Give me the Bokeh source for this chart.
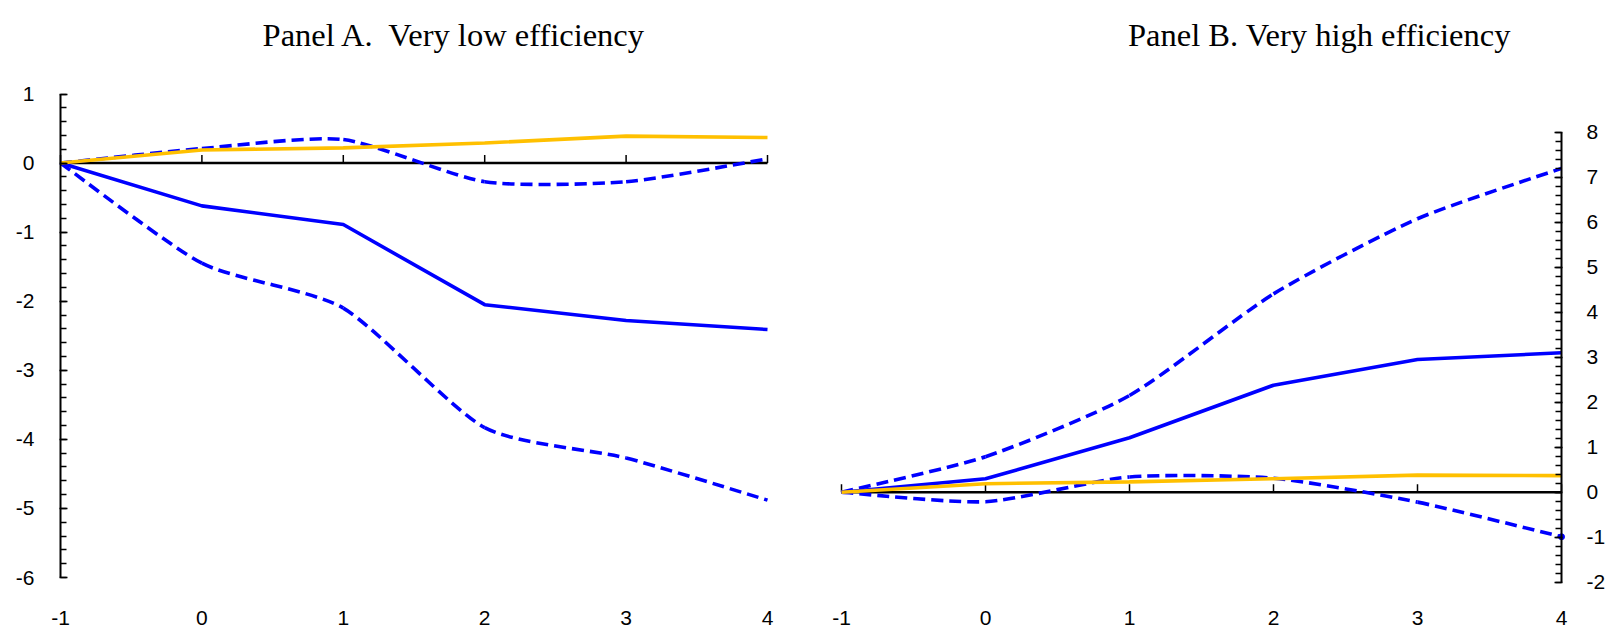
import numpy as np
from bokeh.plotting import figure
from bokeh.models import LinearAxis, FixedTicker, Label, Range1d
from bokeh.core.properties import value
from bokeh.embed import file_html
from bokeh.resources import INLINE

# ---------------- data ----------------
periods = [-1, 0, 1, 2, 3, 4]
period_labels = ["-1", "0", "1", "2", "3", "4"]

a_point = [0, -0.62, -0.89, -2.05, -2.28, -2.41]
a_upper = [0, 0.21, 0.34, -0.27, -0.27, 0.06]
a_lower = [0, -1.45, -2.10, -3.83, -4.27, -4.88]
a_control = [0, 0.19, 0.22, 0.29, 0.39, 0.37]

b_point = [0, 0.30, 1.21, 2.38, 2.95, 3.10]
b_upper = [0, 0.79, 2.15, 4.41, 6.08, 7.20]
b_lower = [0, -0.21, 0.34, 0.31, -0.22, -0.99]
b_control = [0, 0.19, 0.23, 0.30, 0.38, 0.37]

a_yticks = [-6, -5, -4, -3, -2, -1, 0, 1]
b_yticks = [-2, -1, 0, 1, 2, 3, 4, 5, 6, 7, 8]

titles = ["Panel A.\u00a0 Very low efficiency", "Panel B. Very high efficiency"]

BLUE = "#0000FF"
GOLD = "#FFC000"
LABEL_FONT = "Liberation Sans"
LABEL_SIZE = "21px"
TITLE_FONT = "Liberation Serif"

# ---------------- layout (picture pixels) ----------------
FIG_W, FIG_H = 1614, 626
FRAME_L, FRAME_R = 0, FIG_W
FRAME_T, FRAME_B = 0, FIG_H
# panel A: x -1..4 -> 60..767, y 1..-6 -> 93.5..577
A_X = (60.0, 767.0)
A_Y = (93.5, 577.0)
# panel B: x -1..4 -> 841..1561, y 8..-2 -> 131.9..581.7
B_X = (841.0, 1561.0)
B_Y = (131.9, 581.7)
TITLE_CX = (454.0, 1319.0)
TITLE_BASE = 34.0
XLABEL_BASE = 617.5


def xrange_for(px):
    per = (px[1] - px[0]) / (periods[-1] - periods[0])
    return Range1d(periods[0] - (px[0] - FRAME_L) / per,
                   periods[-1] + (FRAME_R - px[1]) / per), per


def yrange_for(py, lo, hi):
    per = (py[1] - py[0]) / (hi - lo)
    return Range1d(lo - (FRAME_B - py[1]) / per, hi + (py[0] - FRAME_T) / per), per


xa, pxa = xrange_for(A_X)
xb, pxb = xrange_for(B_X)
ya, pya = yrange_for(A_Y, a_yticks[0], a_yticks[-1])
yb, pyb = yrange_for(B_Y, b_yticks[0], b_yticks[-1])

p = figure(frame_width=FRAME_R - FRAME_L, frame_height=FRAME_B - FRAME_T,
           x_range=xa, y_range=ya,
           output_backend="svg", toolbar_location=None,
           x_axis_location=None, y_axis_location=None,
           min_border_left=0, min_border_right=0,
           min_border_top=0, min_border_bottom=0)
p.extra_x_ranges = {"b": xb}
p.extra_y_ranges = {"b": yb}
p.grid.visible = False
p.outline_line_color = None
p.background_fill_color = "white"
p.border_fill_color = "white"


def style_yaxis(ax, standoff):
    ax.axis_line_width = 2
    ax.axis_line_color = "black"
    ax.major_tick_in = 7
    ax.major_tick_out = 1
    ax.minor_tick_in = 6
    ax.minor_tick_out = 0
    ax.major_tick_line_width = 1.5
    ax.minor_tick_line_width = 1.5
    ax.major_label_standoff = standoff
    ax.major_label_text_font = LABEL_FONT
    ax.major_label_text_font_size = LABEL_SIZE
    ax.major_label_text_color = "black"


def minor_for(ticks):
    return [float(v) for v in np.round(np.arange(ticks[0], ticks[-1] + 1e-9, 0.2), 2)]


yaxA = LinearAxis(ticker=FixedTicker(ticks=a_yticks, minor_ticks=minor_for(a_yticks)),
                  bounds=(a_yticks[0], a_yticks[-1]), fixed_location=periods[0],
                  major_label_overrides={t: str(t) for t in a_yticks})
style_yaxis(yaxA, 25)
p.add_layout(yaxA, "left")

yaxB = LinearAxis(ticker=FixedTicker(ticks=b_yticks, minor_ticks=minor_for(b_yticks)),
                  bounds=(b_yticks[0], b_yticks[-1]), fixed_location=periods[-1],
                  x_range_name="b", y_range_name="b",
                  major_label_overrides={t: str(t) for t in b_yticks})
style_yaxis(yaxB, 24)
p.add_layout(yaxB, "right")


def smooth(xs, ys, k=1.0 / 9.0):
    n = len(xs)
    d = dict(x0=[], y0=[], x1=[], y1=[], cx0=[], cy0=[], cx1=[], cy1=[])
    for i in range(n - 1):
        ip = max(i - 1, 0)
        inx = min(i + 2, n - 1)
        d["x0"].append(xs[i]); d["y0"].append(ys[i])
        d["x1"].append(xs[i + 1]); d["y1"].append(ys[i + 1])
        d["cx0"].append(xs[i] + (xs[i + 1] - xs[ip]) * k)
        d["cy0"].append(ys[i] + (ys[i + 1] - ys[ip]) * k)
        d["cx1"].append(xs[i + 1] - (xs[inx] - xs[i]) * k)
        d["cy1"].append(ys[i + 1] - (ys[inx] - ys[i]) * k)
    return d


zero_pix = {
    None: A_Y[0] + (a_yticks[-1] - 0) * pya,
    "b": B_Y[0] + (b_yticks[-1] - 0) * pyb,
}


def draw_panel(rn, point, upper, lower, control, per_y, title, title_cx,
               per_x, px0, end_dot=False):
    kw = {} if rn is None else dict(x_range_name=rn, y_range_name=rn)
    # zero line with upward ticks
    p.line([periods[0], periods[-1]], [0, 0], line_color="black", line_width=2.5, **kw)
    tick_len = 8.0 / per_y
    p.segment(x0=periods, y0=[0] * len(periods), x1=periods,
              y1=[tick_len] * len(periods), line_color="black", line_width=1.5, **kw)
    for series in (upper, lower):
        p.bezier(**smooth(periods, series), line_color=BLUE,
                 line_width=3.6, line_dash="12 6", **kw)
    p.line(periods, point, line_color=BLUE, line_width=3.6, **kw)
    p.line(periods, control, line_color=GOLD, line_width=3.6, **kw)
    if end_dot:
        p.scatter(periods[-1:], lower[-1:], size=6, color=BLUE, **kw)

    # category labels under the panel
    ylab = -(XLABEL_BASE - zero_pix[rn]) / per_y
    p.text(x=periods, y=[ylab] * len(periods), text=period_labels,
           text_align="center", text_baseline="alphabetic",
           text_font=value(LABEL_FONT), text_font_size=LABEL_SIZE,
           text_color="black", **kw)

    tx = periods[0] + (title_cx - px0) / per_x
    ty = (zero_pix[rn] - TITLE_BASE) / per_y
    lab = Label(x=tx, y=ty, text=title, text_align="center",
                text_baseline="alphabetic", text_font=TITLE_FONT,
                text_font_size="32.5px", text_color="black")
    if rn is not None:
        lab.x_range_name = rn
        lab.y_range_name = rn
    p.add_layout(lab)


draw_panel(None, a_point, a_upper, a_lower, a_control, pya, titles[0], TITLE_CX[0],
           pxa, A_X[0])
draw_panel("b", b_point, b_upper, b_lower, b_control, pyb, titles[1], TITLE_CX[1],
           pxb, B_X[0], end_dot=True)

open("out.html", "w").write(file_html(p, INLINE))
